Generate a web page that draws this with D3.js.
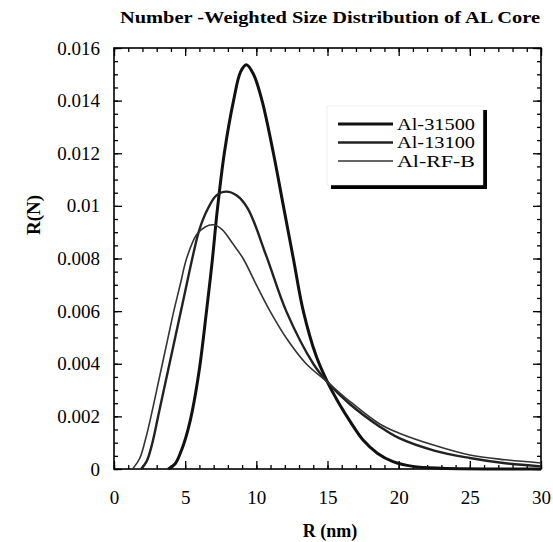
<!DOCTYPE html>
<html>
<head>
<meta charset="utf-8">
<script src="https://cdn.jsdelivr.net/npm/d3@7"></script>
<style>
  body { margin: 0; background: #fff; }
  svg text { font-family: "Liberation Serif", "Times New Roman", serif; }
</style>
</head>
<body>
<div id="chart"></div>
<script>
// Series: [R (nm), R(N)]
var al31500 = [
    [3.8, 0], [4.3, 0.0002], [4.8, 0.0008], [5.2, 0.0015], [5.5, 0.0022],
    [6.0, 0.0038], [6.5, 0.006], [6.9, 0.0079], [7.25, 0.0098], [7.75, 0.012],
    [8.4, 0.014], [8.9, 0.0151], [9.3, 0.01536], [9.8, 0.0150], [10.4, 0.014],
    [11.2, 0.012], [11.9, 0.010], [12.6, 0.008], [13.3, 0.006], [14.2, 0.0043],
    [15.0, 0.0033], [15.8, 0.0025], [16.6, 0.0018], [17.5, 0.0011], [18.5, 0.0006],
    [19.6, 0.00028], [21, 0.0001], [23, 0.00003], [30, 0]
];
var al13100 = [
    [1.9, 0], [2.3, 0.0003], [2.7, 0.001], [3.1, 0.002], [3.5, 0.003],
    [3.9, 0.004], [4.3, 0.005], [4.7, 0.006], [5.1, 0.007], [5.5, 0.008],
    [6.0, 0.0091], [6.6, 0.0099], [7.2, 0.0104], [7.9, 0.01054], [8.6, 0.0104],
    [9.4, 0.0099], [10.7, 0.0081], [12.1, 0.006], [14.0, 0.004], [15.0, 0.0033],
    [16.5, 0.0025], [18.7, 0.0016], [20, 0.00118], [22.5, 0.0007], [25, 0.00042],
    [27.5, 0.00022], [30, 0.0001]
];
var alRFB = [
    [1.3, 0], [1.8, 0.0004], [2.2, 0.0011], [2.6, 0.002], [3.0, 0.003],
    [3.4, 0.004], [3.8, 0.005], [4.2, 0.006], [4.65, 0.007], [5.1, 0.008],
    [5.8, 0.0089], [6.4, 0.0092], [6.97, 0.00928], [7.6, 0.0091], [8.3, 0.0086],
    [9.07, 0.008], [10.0, 0.007], [10.96, 0.006], [12.2, 0.0049], [13.5, 0.004],
    [15.0, 0.0033], [16.5, 0.0026], [18.7, 0.0017], [20, 0.00137], [22.5, 0.0009],
    [25, 0.00053], [27.5, 0.00035], [30, 0.00023]
];
var seriesNames = ["Al-31500", "Al-13100", "Al-RF-B"];
var xTicks = [0, 5, 10, 15, 20, 25, 30];
var yTicks = [0, 0.002, 0.004, 0.006, 0.008, 0.01, 0.012, 0.014, 0.016];

function init() {
    var w = 553, h = 542;
    var left = 114, right = 541, top = 48, bottom = 469;
    var serif = "'Liberation Serif', 'Times New Roman', serif";

    var svg = d3.select("#chart").append("svg")
        .attr("width", w)
        .attr("height", h);

    var x = d3.scaleLinear().domain([0, 30]).range([left, right]);
    var y = d3.scaleLinear().domain([0, 0.016]).range([bottom, top]);

    // title
    svg.append("text")
        .attr("x", 120).attr("y", 23)
        .attr("textLength", 420)
        .attr("lengthAdjust", "spacingAndGlyphs")
        .style("font-family", serif)
        .style("font-size", "16px")
        .style("font-weight", "bold")
        .text("Number -Weighted Size Distribution of AL Core");

    // inward ticks on all four sides, major and minor
    var xMinor = d3.range(0, 31, 1);
    var yMinor = d3.range(0, 0.01601, 0.0005);

    function styleAxis(g) {
        g.attr("font-family", serif);
        g.select(".domain").remove();
        g.selectAll("line").attr("stroke", "#000").attr("stroke-width", 1.3);
        g.selectAll("text").style("font-family", serif).style("font-size", "19px").attr("fill", "#000");
    }

    svg.append("g").attr("transform", "translate(0," + bottom + ")")
        .call(d3.axisBottom(x).tickValues(xMinor).tickSize(-4).tickFormat(""))
        .call(styleAxis);
    svg.append("g").attr("transform", "translate(0," + bottom + ")")
        .call(d3.axisBottom(x).tickValues(xTicks).tickSize(-8).tickPadding(22).tickFormat(d3.format("d")))
        .call(styleAxis);
    svg.append("g").attr("transform", "translate(0," + top + ")")
        .call(d3.axisTop(x).tickValues(xMinor).tickSize(-4).tickFormat(""))
        .call(styleAxis);
    svg.append("g").attr("transform", "translate(0," + top + ")")
        .call(d3.axisTop(x).tickValues(xTicks).tickSize(-8).tickFormat(""))
        .call(styleAxis);

    svg.append("g").attr("transform", "translate(" + left + ",0)")
        .call(d3.axisLeft(y).tickValues(yMinor).tickSize(-4).tickFormat(""))
        .call(styleAxis);
    svg.append("g").attr("transform", "translate(" + left + ",0)")
        .call(d3.axisLeft(y).tickValues(yTicks).tickSize(-8).tickPadding(14)
            .tickFormat(function (d) { return d === 0 ? "0" : String(+d.toFixed(3)); }))
        .call(styleAxis);
    svg.append("g").attr("transform", "translate(" + right + ",0)")
        .call(d3.axisRight(y).tickValues(yMinor).tickSize(-4).tickFormat(""))
        .call(styleAxis);
    svg.append("g").attr("transform", "translate(" + right + ",0)")
        .call(d3.axisRight(y).tickValues(yTicks).tickSize(-8).tickFormat(""))
        .call(styleAxis);

    // frame
    svg.append("rect")
        .attr("x", left).attr("y", top)
        .attr("width", right - left).attr("height", bottom - top)
        .attr("fill", "none").attr("stroke", "#000").attr("stroke-width", 1.6);

    // axis titles
    svg.append("text")
        .attr("x", 330).attr("y", 537)
        .attr("text-anchor", "middle")
        .style("font-family", serif)
        .style("font-size", "18px").style("font-weight", "bold")
        .text("R (nm)");
    svg.append("text")
        .attr("transform", "translate(40,215) rotate(-90)")
        .attr("text-anchor", "middle")
        .style("font-family", serif)
        .style("font-size", "19px").style("font-weight", "bold")
        .text("R(N)");

    // curves
    var line = d3.line()
        .x(function (d) { return x(d[0]); })
        .y(function (d) { return y(d[1]); })
        .curve(d3.curveCatmullRom.alpha(0.5));

    var series = [al31500, al13100, alRFB];
    var widths = [3, 2.4, 1.6];
    var colors = ["#111", "#222", "#333"];

    svg.selectAll("path.curve")
        .data(series)
        .enter()
        .append("path")
        .attr("class", "curve")
        .attr("d", line)
        .attr("fill", "none")
        .attr("stroke", function (d, i) { return colors[i]; })
        .attr("stroke-width", function (d, i) { return widths[i]; })
        .attr("stroke-linejoin", "round");

    // legend box with drop shadow
    var lg = svg.append("g");
    lg.append("rect").attr("x", 331).attr("y", 110).attr("width", 156).attr("height", 79).attr("fill", "#000");
    lg.append("rect").attr("x", 327).attr("y", 106).attr("width", 156).attr("height", 79)
        .attr("fill", "#fff").attr("stroke", "#ddd").attr("stroke-width", 0.5);

    seriesNames.forEach(function (name, i) {
        var ly = 124 + i * 18.5;
        lg.append("line")
            .attr("x1", 338).attr("x2", 393)
            .attr("y1", ly).attr("y2", ly)
            .attr("stroke", colors[i])
            .attr("stroke-width", widths[i]);
        lg.append("text")
            .attr("x", 397).attr("y", ly + 5.5)
            .attr("textLength", 78)
            .attr("lengthAdjust", "spacingAndGlyphs")
            .style("font-family", serif)
            .style("font-size", "16px")
            .text(name);
    });
}

window.onload = init;
</script>
</body>
</html>
